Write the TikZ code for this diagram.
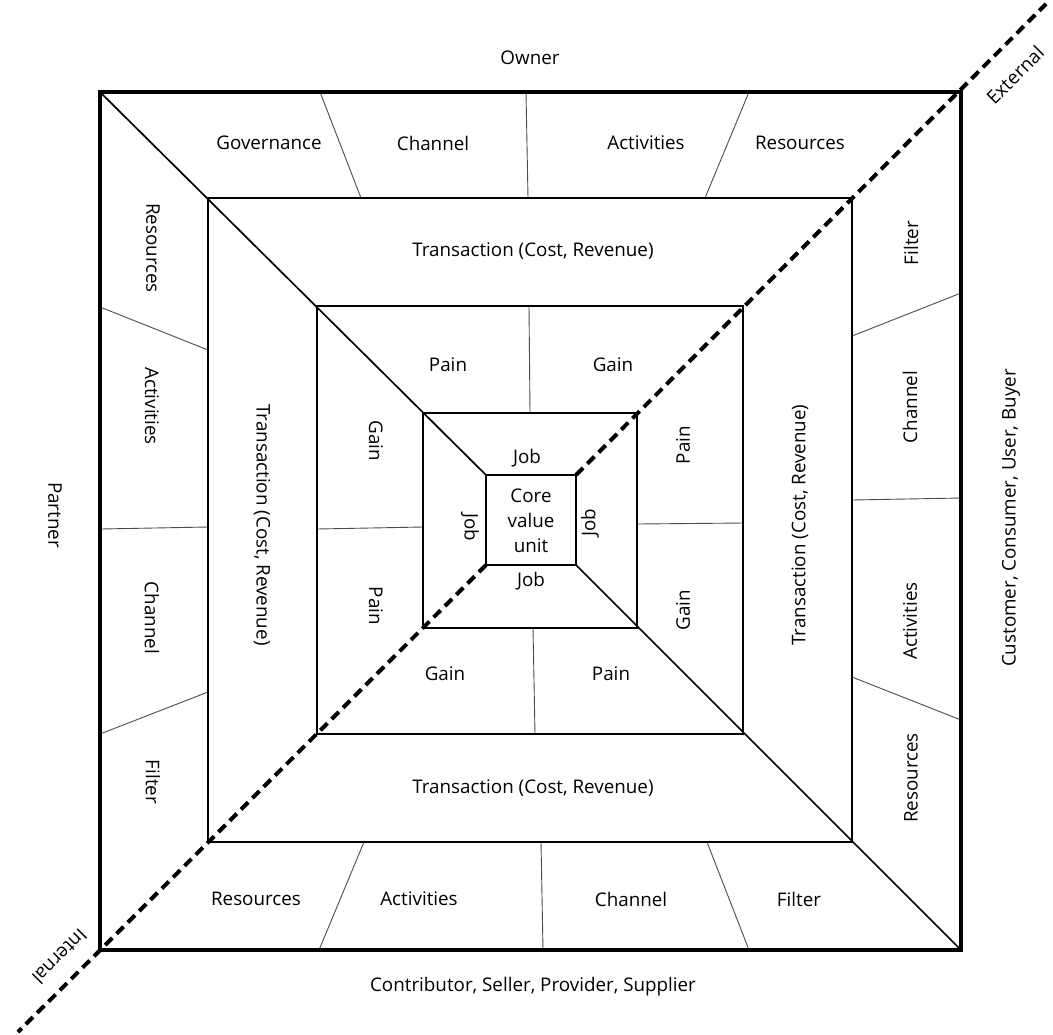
\documentclass[tikz,border=0pt]{standalone}
\usepackage{fontspec}
\setmainfont{Open Sans}
\begin{document}
\begin{tikzpicture}%
	[x=0.5pt, y=-0.5pt,
	outerframe/.style={line width=2pt},
	ring/.style={line width=0.7pt},
	panel/.style={line width=1pt},
	divider/.style={line width=0.45pt, color=black!70},
	split/.style={line width=0.85pt},
	boundary/.style={line width=2pt, dash pattern=on 5pt off 3pt},
	txt/.style={inner sep=0pt, font=\fontsize{9.4}{12.5}\selectfont},
	txtdown/.style={txt, rotate=-90},
	txtup/.style={txt, rotate=90}]
%
\useasboundingbox (0,0) rectangle (1053,1034);
%
%% Corners of the squares (outer, transaction, pain/gain, job, core)
%%
\coordinate (oNW) at (100,92);
\coordinate (oNE) at (961,92);
\coordinate (oSE) at (961,950);
\coordinate (oSW) at (100,950);
\coordinate (tNW) at (208,198);
\coordinate (tSE) at (852,842);
\coordinate (pNW) at (317,306);
\coordinate (pSE) at (743,734);
\coordinate (jNW) at (423,413);
\coordinate (jSE) at (637,628);
\coordinate (cNW) at (486,475);
\coordinate (cNE) at (576,475);
\coordinate (cSE) at (576,565);
\coordinate (cSW) at (486,565);
\coordinate (endSW) at (18,1032);
\coordinate (endNE) at (1046,4);
%%
%%
%% Dividers of the outer band
%%
\draw[divider] (320,92) -- (361,198);
\draw[divider] (526,92) -- (528,198);
\draw[divider] (749,92) -- (705,198);
\draw[divider] (852,336) -- (961,293);
\draw[divider] (852,500) -- (961,498);
\draw[divider] (852,677) -- (961,720);
\draw[divider] (364,842) -- (319,950);
\draw[divider] (541,842) -- (543,950);
\draw[divider] (707,842) -- (749,950);
\draw[divider] (100,307) -- (208,350);
\draw[divider] (100,529) -- (208,527);
\draw[divider] (100,734) -- (208,692);
%%
%% Dividers of the pain/gain band
%%
\draw[divider] (529,306) -- (530,413);
\draw[divider] (637,524) -- (743,523);
\draw[divider] (533,628) -- (535,734);
\draw[divider] (317,529) -- (423,527);
%%
%%
%% Drawing the squares
%%
\draw[ring] (tNW) rectangle (tSE);
\draw[panel] (pNW) rectangle (pSE);
\draw[ring] (jNW) rectangle (jSE);
\draw[panel] (cNW) rectangle (cSE);
\draw[outerframe] (oNW) rectangle (oSE);
%%
%%
%% Drawing the diagonals
%%
\draw[split] (oNW) -- (cNW);
\draw[split] (cSE) -- (oSE);
\draw[boundary] (cNE) -- (endNE);
\draw[boundary] (cSW) -- (endSW);
%%
%%
%% Labels round the outside
%%
\node[txt] (owner) at (530,58) {Owner};
\node[txt] (contributor) at (533,987) {Contributor, Seller, Provider, Supplier};
\node[txtdown] (partner) at (55,515) {Partner};
\node[txtup] (customer) at (1011,518) {Customer, Consumer, User, Buyer};
\node[txt, rotate=45] (external) at (1015,75) {External};
\node[txt, rotate=225] (internal) at (60,957) {Internal};
%%
%% Outer band
%%
\node[txt] (govT) at (269,143) {Governance};
\node[txt] (chanT) at (433,143) {Channel};
\node[txt] (actT) at (646,143) {Activities};
\node[txt] (resT) at (800,143) {Resources};
\node[txtdown] (resL) at (153,248) {Resources};
\node[txtdown] (actL) at (152,406) {Activities};
\node[txtdown] (chanL) at (152,618) {Channel};
\node[txtdown] (filL) at (153,782) {Filter};
\node[txtup] (filR) at (911,243) {Filter};
\node[txtup] (chanR) at (910,407) {Channel};
\node[txtup] (actR) at (910,621) {Activities};
\node[txtup] (resR) at (911,778) {Resources};
\node[txt] (resB) at (256,899) {Resources};
\node[txt] (actB) at (419,899) {Activities};
\node[txt] (chanB) at (631,899) {Channel};
\node[txt] (filB) at (799,899) {Filter};
%%
%% Transaction band
%%
\node[txt] (traT) at (533,251) {Transaction (Cost, Revenue)};
\node[txt] (traB) at (533,788) {Transaction (Cost, Revenue)};
\node[txtdown] (traL) at (262,525) {Transaction (Cost, Revenue)};
\node[txtup] (traR) at (800,525) {Transaction (Cost, Revenue)};
%%
%% Pain/gain band
%%
\node[txt] (painT) at (448,365) {Pain};
\node[txt] (gainT) at (613,365) {Gain};
\node[txtdown] (gainL) at (376,441) {Gain};
\node[txtdown] (painL) at (376,606) {Pain};
\node[txtup] (painR) at (683,445) {Pain};
\node[txtup] (gainR) at (683,610) {Gain};
\node[txt] (gainB) at (445,674) {Gain};
\node[txt] (painB) at (611,674) {Pain};
%%
%% Job band and core
%%
\node[txt] (jobT) at (527,458) {Job};
\node[txt] (jobB) at (531,581) {Job};
\node[txtdown] (jobL) at (470,527) {Job};
\node[txtup] (jobR) at (590,523) {Job};
\node[txt, align=center] (core) at (531,521) {Core\\value\\unit};
%%
\end{tikzpicture}
\end{document}
